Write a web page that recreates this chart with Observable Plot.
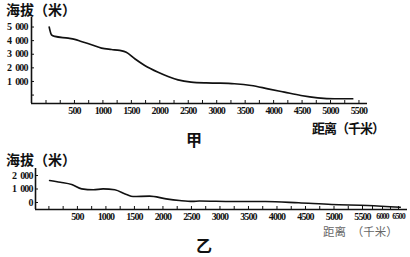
<!DOCTYPE html>
<html><head><meta charset="utf-8">
<script src="https://cdn.jsdelivr.net/npm/d3@7"></script>
<script src="https://cdn.jsdelivr.net/npm/@observablehq/plot@0.6"></script>
<style>
html,body{margin:0;padding:0;background:#fff;}
#root{position:relative;width:410px;height:257px;overflow:hidden;font-family:"Noto Sans CJK SC",sans-serif;color:#111;}
.t{position:absolute;white-space:nowrap;line-height:1;}
.wrap{position:absolute;left:0;}
.wrap svg text{font-family:"Liberation Serif","DejaVu Serif",serif;}
</style></head><body>
<div id="root">
  <div id="top" class="wrap" style="top:0"></div>
  <div id="bot" class="wrap" style="top:140px"></div>
  <div class="t" style="left:6px;top:2px;font-size:14px;font-weight:700">海拔（米）</div>
  <div class="t" style="left:312px;top:121px;font-size:13px;font-weight:700;letter-spacing:-1px">距离（千米）</div>
  <div class="t" style="left:186px;top:131px;font-size:16px;font-weight:700">甲</div>
  <div class="t" style="left:6px;top:152px;font-size:14px;font-weight:700">海拔（米）</div>
  <div class="t" style="left:196px;top:237px;font-size:16px;font-weight:700">乙</div>
  <div class="t" style="left:323px;top:226px;font-size:11.5px;color:#666">距离　（千米）</div>
</div>
<script>
// 甲 profile
const jiaKm   = [56, 96, 155, 390, 505, 620, 800, 975, 1150, 1295, 1410, 1560, 1735, 1970, 2145, 2320, 2550, 2815, 3020, 3310, 3605, 3900, 4190, 4480, 4775, 5070, 5390];
const jiaElev = [4990, 4430, 4310, 4180, 4090, 3940, 3700, 3450, 3350, 3280, 3150, 2670, 2180, 1680, 1370, 1120, 950, 890, 875, 830, 705, 460, 215, -30, -200, -270, -270];
const jiaXTicks = d3.range(0, 5501, 250);
const jiaYTicks = [0, 1000, 2000, 3000, 4000, 5000];
const jiaXDomain = [-255, 5650];
const jiaYDomain = [-620, 5700];

// 乙 profile
const yiKm   = [12, 200, 400, 575, 780, 950, 1155, 1360, 1475, 1765, 2055, 2290, 2520, 2640, 3220, 3800, 4380, 4960, 5630, 6555];
const yiElev = [1630, 1500, 1330, 1010, 940, 1010, 940, 590, 440, 470, 270, 150, 80, 110, 75, 75, -25, -150, -220, -350];
const yiXTicks = d3.range(0, 6501, 250);
const yiXSmallLabels = [6000, 6500];
const yiYTicks = [0, 1000, 2000];
const yiYDomain = [-520, 2520];
// the printed axis is compressed beyond 5500 km
const yiBreaks = [-235, 5500, 6000, 6780];
const yiBreakDisplay = [-235, 5500, 5851, 6289];

const serif = '"Liberation Serif","DejaVu Serif",serif';
const warp = d3.scaleLinear().domain(yiBreaks).range(yiBreakDisplay);
const spaced = d => d3.format(",")(d).replace(",", "\u2002");
const fmtY = d => d === 0 ? "" : spaced(d);
const fmtX = d => (d > 0 && d % 500 === 0) ? String(d) : "";

const jia = jiaKm.map((k, i) => ({km: k, elev: jiaElev[i]}));
const yi = yiKm.map((k, i) => ({km: warp(k), elev: yiElev[i]}));

const style = {fontFamily: serif, fontSize: "10px", color: "#111", background: "transparent", overflow: "visible"};
const txt = {fontFamily: serif, fontWeight: "bold", fontSize: 10};

function tighten(svg, ls) {
  svg.querySelectorAll("text").forEach(t => t.style.letterSpacing = ls);
}

const topPlot = Plot.plot({
  width: 410, height: 140,
  marginTop: 17, marginBottom: 37, marginLeft: 31, marginRight: 43,
  x: {domain: jiaXDomain},
  y: {domain: jiaYDomain},
  style,
  marks: [
    Plot.ruleY([jiaYDomain[0]], {stroke: "#111", strokeWidth: 1.6}),
    Plot.ruleX([jiaXDomain[0]], {stroke: "#111", strokeWidth: 1.6}),
    Plot.axisX({ticks: jiaXTicks, tickSize: -3, tickPadding: 6, tickFormat: fmtX, label: null, stroke: "#111", ...txt}),
    Plot.axisY({ticks: jiaYTicks, tickSize: -3, tickPadding: 7, tickFormat: fmtY, label: null, stroke: "#111", ...txt}),
    Plot.line(jia, {x: "km", y: "elev", stroke: "#111", strokeWidth: 1.7, curve: "monotone-x"})
  ]
});
tighten(topPlot, "-0.9px");
document.getElementById("top").appendChild(topPlot);

const botPlot = Plot.plot({
  width: 410, height: 117,
  marginTop: 28, marginBottom: 48, marginLeft: 35, marginRight: 3,
  x: {domain: [yiBreakDisplay[0], yiBreakDisplay[3]]},
  y: {domain: yiYDomain},
  style,
  marks: [
    Plot.ruleY([yiYDomain[0]], {stroke: "#111", strokeWidth: 1.6}),
    Plot.ruleX([yiBreakDisplay[0]], {stroke: "#111", strokeWidth: 1.6}),
    Plot.axisX({ticks: yiXTicks.map(warp), tickSize: -3, tickPadding: 6,
      tickFormat: d => { const k = Math.round(warp.invert(d)); return k <= 5500 ? fmtX(k) : ""; },
      label: null, stroke: "#111", ...txt}),
    Plot.axisX({ticks: yiXSmallLabels.map(warp), tickSize: 0, tickPadding: 4,
      tickFormat: d => String(Math.round(warp.invert(d))), label: null, ...txt, fontSize: 8}),
    Plot.axisY({ticks: yiYTicks, tickSize: -3, tickPadding: 6, tickFormat: spaced, label: null, stroke: "#111", ...txt}),
    Plot.line(yi, {x: "km", y: "elev", stroke: "#111", strokeWidth: 1.6, curve: "monotone-x"})
  ]
});
tighten(botPlot, "-0.9px");
document.getElementById("bot").appendChild(botPlot);
</script>
</body></html>
